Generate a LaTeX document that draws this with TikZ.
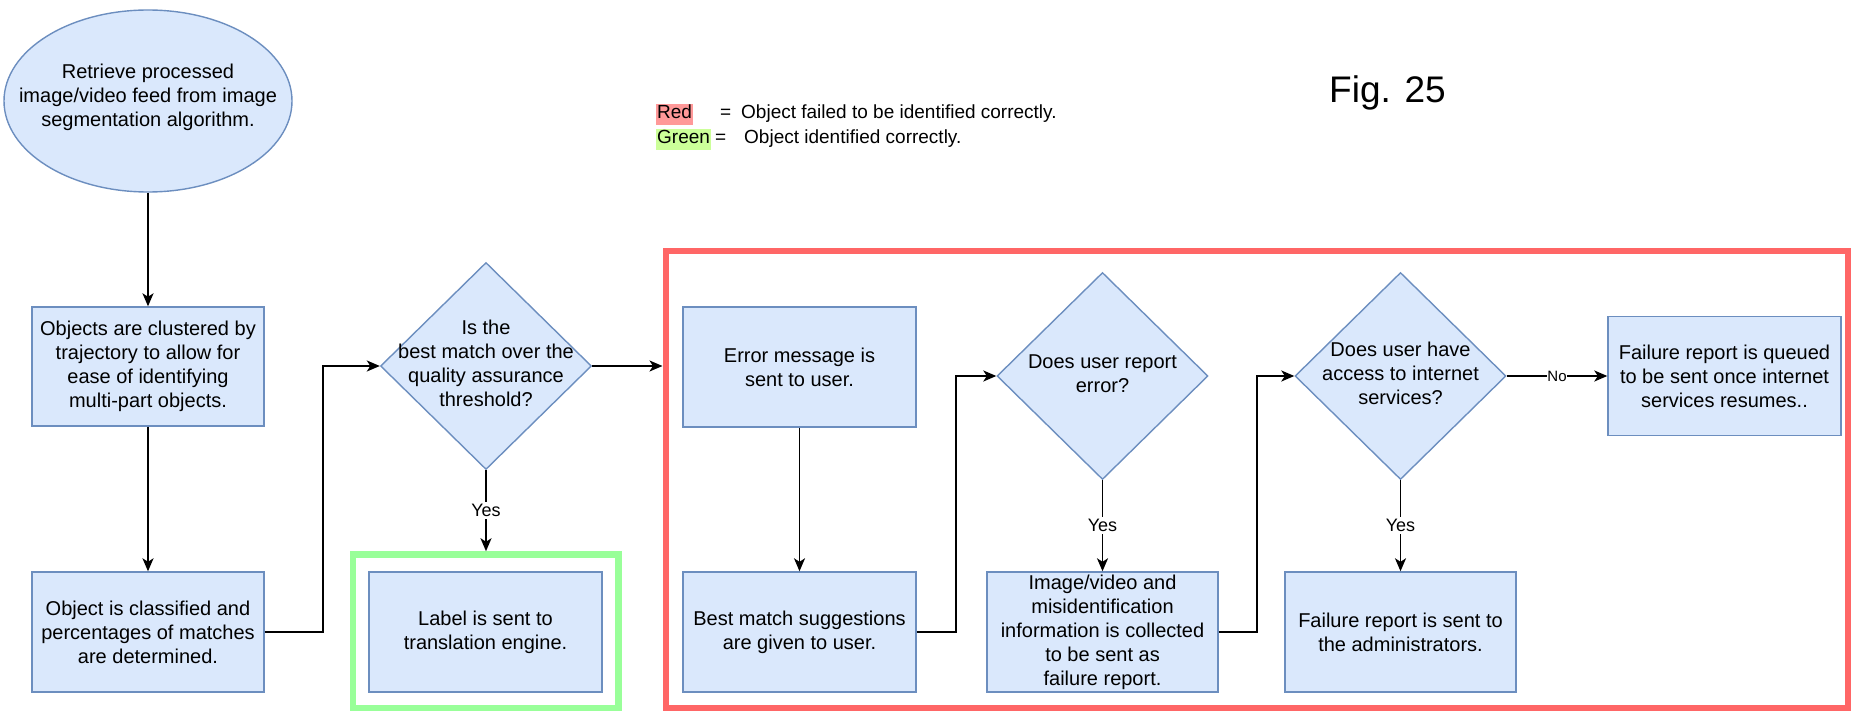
\documentclass[tikz,border=0pt]{standalone}
\usepackage{fontspec}
\setmainfont{Liberation Sans}
\usetikzlibrary{shapes.geometric,arrows.meta,calc}
\definecolor{boxfill}{HTML}{DAE8FC}
\definecolor{boxline}{HTML}{6C8EBF}
\definecolor{failred}{HTML}{FF6666}
\definecolor{okgreen}{HTML}{99FF99}
\definecolor{redmark}{HTML}{FF9999}
\definecolor{greenmark}{HTML}{CCFF99}
\tikzset{
  txt/.style={font=\fontsize{20}{24}\selectfont, align=center},
  proc/.style={draw=boxline, fill=boxfill, line width=1.4pt, rectangle, inner sep=0pt, txt},
  decision/.style={draw=boxline, fill=boxfill, line width=1.4pt, diamond, inner sep=0pt,
                   minimum width=211pt, minimum height=207pt},
  startnode/.style={draw=boxline, fill=boxfill, line width=1.4pt, ellipse, inner sep=0pt,
                    minimum width=288pt, minimum height=182pt},
  frame/.style={rectangle, inner sep=0pt},
  flow/.style={line width=1.8pt, -{Stealth[length=13pt,width=11pt,inset=3.5pt]}},
  link/.style={line width=1.8pt},
  answer/.style={fill=white, font=\fontsize{18}{20}\selectfont, inner sep=2pt},
  legendtxt/.style={font=\fontsize{19}{23}\selectfont, inner sep=0pt, anchor=base west},
}
\begin{document}
\begin{tikzpicture}[x=1pt,y=-1pt]
\useasboundingbox (0,0) rectangle (1851,711);

% outcome frames
\node[frame, draw=failred, line width=6pt, minimum width=1182.5pt, minimum height=456pt] (fail) at (1256.75,479.5) {};
\node[frame, draw=okgreen, line width=6.5pt, minimum width=265.5pt, minimum height=153.5pt] (grn) at (485.75,631.25) {};

% legend and caption
\node[legendtxt, fill=redmark, inner xsep=1pt, text height=15pt, text depth=6pt] (lred) at (656,119) {Red};
\node[legendtxt] (eqred) at (720,119) {=};
\node[legendtxt] (tred) at (741,119) {Object failed to be identified correctly.};
\node[legendtxt, fill=greenmark, inner xsep=1pt, text height=15pt, text depth=6pt] (lgreen) at (656,144) {Green};
\node[legendtxt] (eqgreen) at (715,144) {=};
\node[legendtxt] (tgreen) at (744,144) {Object identified correctly.};
\node[anchor=base west, inner sep=0pt, font=\fontsize{37}{44}\selectfont] (fig) at (1329,103) {Fig. 25};

% start
\node[startnode, label={[txt, yshift=4pt]center:{Retrieve processed\\image/video feed from image\\segmentation algorithm.}}] (ell) at (148,101) {};

% left column
\node[proc, minimum width=232pt, minimum height=119pt] (clus) at (148,366.5)
  {Objects are clustered by\\trajectory to allow for\\ease of identifying\\multi-part objects.};
\node[proc, minimum width=232pt, minimum height=120pt] (clas) at (148,632)
  {Object is classified and\\percentages of matches\\are determined.};

% first decision
\node[decision, label={[txt, yshift=3pt]center:{Is the\\best match over the\\quality assurance\\threshold?}}] (q1) at (486,366) {};
\node[proc, minimum width=233pt, minimum height=120pt] (lbl) at (485.5,632)
  {Label is sent to\\translation engine.};

% failure branch
\node[proc, minimum width=233pt, minimum height=120pt] (err) at (799.5,367)
  {Error message is\\sent to user.};
\node[proc, minimum width=233pt, minimum height=120pt] (sug) at (799.5,632)
  {Best match suggestions\\are given to user.};
\node[decision, label={[txt, yshift=2pt]center:{Does user report\\error?}}] (q2) at (1102.5,376) {};
\node[proc, minimum width=231pt, minimum height=120pt] (info) at (1102.5,632)
  {Image/video and\\misidentification\\information is collected\\to be sent as\\failure report.};
\node[decision, label={[txt, yshift=3pt]center:{Does user have\\access to internet\\services?}}] (q3) at (1400.5,376) {};
\node[proc, minimum width=231pt, minimum height=120pt] (admin) at (1400.5,632)
  {Failure report is sent to\\the administrators.};
\node[proc, minimum width=233pt, minimum height=119pt] (queue) at (1724.5,376)
  {Failure report is queued\\to be sent once internet\\services resumes..};

% connectors
\draw[flow] (ell.south) -- (clus.north);
\draw[flow] (clus.south) -- (clas.north);
\draw[flow] (clas.east) -- ++(58,0) |- (q1.west);
\draw[flow] (q1.south) -- node[answer] {Yes} (q1.south |- grn.north);
\draw[flow] (q1.east) -- (q1.east -| fail.west);
\draw[flow] (err.south) -- (sug.north);
\draw[flow] (sug.east) -- ++(39,0) |- (q2.west);
\draw[flow] (q2.south) -- node[answer] {Yes} (info.north);
\draw[flow] (info.east) -- ++(38,0) |- (q3.west);
\draw[flow] (q3.south) -- node[answer] {Yes} (admin.north);
\draw[flow] (q3.east) -- node[fill=white, inner sep=0.5pt, font=\fontsize{15}{17}\selectfont] {No} (queue.west);
\end{tikzpicture}
\end{document}
